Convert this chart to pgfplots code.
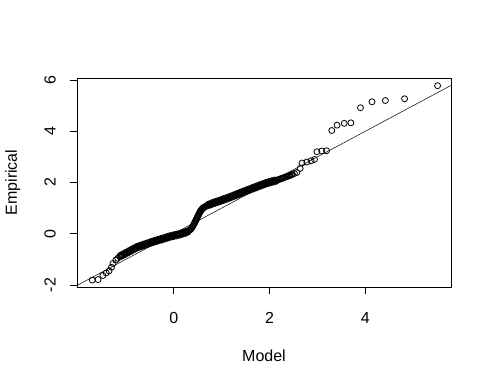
\documentclass[border=0pt]{standalone}
\usepackage{fontspec}
\setmainfont{Liberation Sans}
\usepackage{pgfplots}
\pgfplotsset{compat=1.18}

\begin{document}
\begin{tikzpicture}
\begin{axis}[
  name=ax,
  scale only axis,
  width=374pt, height=209pt,
  xmin=-2.02, xmax=5.79,
  ymin=-2.08, ymax=6.08,
  xtick={0,2,4}, ytick={-2,0,2,4,6},
  tick pos=left, tick align=outside,
  major tick length=7pt,
  tick style={black, line width=0.7pt},
  axis line style={line width=0.8pt},
  /pgf/number format/assume math mode=true,
  ticklabel style={font=\fontsize{16}{18}\selectfont},
  xticklabel style={anchor=center, yshift=-24pt},
  yticklabel style={anchor=center, rotate=90, yshift=20pt},
  label style={font=\fontsize{16}{18}\selectfont},
  xlabel={Model},
  ylabel={Empirical},
  xlabel style={at={(axis description cs:0.5,-0.33)}, anchor=center},
  ylabel style={at={(axis description cs:-0.172,0.5)}, anchor=center, rotate=0},
  clip=true,
]
% reference line y = x
\addplot[no marks, black, line width=0.5pt] coordinates {(-3,-3) (7,7)};

% empirical vs model quantiles
\addplot[only marks, mark=o, mark size=3pt, black, mark options={line width=0.8pt}] coordinates {
(-1.70,-1.81)(-1.58,-1.79)(-1.48,-1.63)(-1.41,-1.53)(-1.35,-1.45)(-1.30,-1.31)
(-1.27,-1.16)(-1.21,-1.03)(-1.17,-0.96)
(-1.13,-0.89)(-1.10,-0.86)(-1.07,-0.83)(-1.04,-0.80)(-1.01,-0.77)(-0.98,-0.74)
(-0.95,-0.71)(-0.92,-0.68)(-0.89,-0.65)(-0.86,-0.62)(-0.83,-0.59)(-0.80,-0.56)
(-0.77,-0.53)(-0.74,-0.51)(-0.71,-0.49)(-0.68,-0.47)(-0.65,-0.45)(-0.62,-0.43)
(-0.59,-0.415)(-0.56,-0.395)(-0.53,-0.375)(-0.50,-0.355)(-0.47,-0.335)(-0.44,-0.315)
(-0.41,-0.30)(-0.38,-0.28)(-0.35,-0.265)(-0.32,-0.25)(-0.29,-0.23)(-0.26,-0.215)
(-0.23,-0.20)(-0.20,-0.18)(-0.17,-0.165)(-0.14,-0.145)(-0.11,-0.125)(-0.08,-0.11)
(-0.05,-0.095)(-0.02,-0.085)(0.01,-0.07)(0.04,-0.055)(0.07,-0.045)(0.10,-0.03)
(0.13,-0.02)(0.16,0.00)(0.19,0.02)(0.22,0.035)(0.25,0.05)(0.28,0.08)(0.31,0.11)
(-1.115,-0.84)(-1.085,-0.88)(-1.055,-0.78)(-1.025,-0.82)(-0.995,-0.72)(-0.965,-0.76)
(-0.935,-0.66)(-0.905,-0.70)(-0.875,-0.60)(-0.845,-0.64)(-0.815,-0.54)(-0.785,-0.58)
(-0.755,-0.485)(-0.725,-0.535)(-0.695,-0.445)(-0.665,-0.495)(-0.635,-0.405)(-0.605,-0.457)
(-0.575,-0.37)(-0.545,-0.42)(-0.515,-0.33)(-0.485,-0.38)(-0.455,-0.29)(-0.425,-0.343)
(-0.395,-0.255)(-0.365,-0.308)(-0.335,-0.223)(-0.305,-0.275)(-0.275,-0.188)(-0.245,-0.243)
(-0.215,-0.155)(-0.185,-0.208)(-0.155,-0.12)(-0.125,-0.17)(-0.095,-0.083)(-0.065,-0.138)
(-0.035,-0.055)(-0.005,-0.113)(0.025,-0.028)(0.055,-0.085)(0.085,-0.003)(0.115,-0.06)
(0.145,0.025)(0.175,-0.025)(0.205,0.063)(0.235,0.008)(0.265,0.10)(0.295,0.06)
(0.34,0.15)(0.36,0.19)(0.38,0.24)(0.40,0.30)(0.42,0.37)(0.44,0.44)(0.455,0.50)
(0.47,0.55)(0.485,0.61)(0.50,0.67)(0.515,0.73)(0.53,0.78)(0.545,0.84)(0.56,0.89)
(0.58,0.94)(0.60,0.98)(0.62,1.02)(0.65,1.05)(0.68,1.08)
(0.35,0.17)(0.39,0.27)(0.43,0.405)(0.4625,0.525)(0.4925,0.64)(0.5225,0.755)
(0.5525,0.865)(0.57,0.915)(0.59,0.96)(0.61,1.00)(0.635,1.035)(0.665,1.065)(0.695,1.095)
(0.71,1.11)(0.74,1.13)(0.77,1.16)(0.80,1.18)(0.83,1.20)(0.86,1.22)(0.89,1.24)
(0.92,1.255)(0.95,1.275)(0.98,1.295)(1.01,1.315)(1.04,1.335)(1.07,1.355)(1.10,1.375)
(1.13,1.395)(1.16,1.415)(1.19,1.435)(1.22,1.46)(1.25,1.48)(1.28,1.505)(1.31,1.525)
(1.34,1.55)(1.37,1.57)(1.40,1.595)(1.43,1.615)(1.46,1.64)(1.49,1.66)(1.52,1.68)
(1.55,1.70)(1.58,1.725)(1.61,1.745)(1.64,1.77)(1.67,1.79)(1.70,1.81)(1.73,1.83)
(1.76,1.855)(1.79,1.875)(1.82,1.895)(1.85,1.915)(1.88,1.935)(1.91,1.96)(1.94,1.98)
(1.97,1.995)(2.00,2.01)(2.03,2.025)(2.06,2.04)(2.09,2.055)(2.12,2.07)(2.15,2.09)
(0.725,1.155)(0.755,1.11)(0.785,1.205)(0.815,1.155)(0.845,1.245)(0.875,1.195)
(0.905,1.283)(0.935,1.23)(0.965,1.32)(0.995,1.27)(1.025,1.36)(1.055,1.31)
(1.085,1.40)(1.115,1.35)(1.145,1.44)(1.175,1.39)(1.205,1.483)(1.235,1.435)
(1.265,1.528)(1.295,1.48)(1.325,1.573)(1.355,1.525)(1.385,1.618)(1.415,1.57)
(1.445,1.663)(1.475,1.615)(1.505,1.705)(1.535,1.655)(1.565,1.748)(1.595,1.70)
(1.625,1.793)(1.655,1.745)(1.685,1.835)(1.715,1.785)(1.745,1.878)(1.775,1.83)
(1.805,1.92)(1.835,1.87)(1.865,1.96)(1.895,1.913)(1.925,2.005)(1.955,1.953)
(1.985,2.038)(2.015,1.983)(2.045,2.068)(2.075,2.013)(2.105,2.098)(2.135,2.045)
(2.19,2.11)(2.24,2.15)(2.29,2.18)(2.34,2.22)(2.39,2.25)(2.43,2.28)(2.48,2.32)
(2.165,2.10)(2.215,2.13)(2.265,2.165)(2.315,2.20)(2.365,2.235)(2.41,2.265)(2.455,2.30)
(2.52,2.35)(2.57,2.39)(2.64,2.55)
(2.68,2.76)(2.78,2.80)(2.87,2.85)(2.94,2.90)
(2.99,3.20)(3.09,3.23)(3.19,3.24)
(3.30,4.03)(3.41,4.24)(3.56,4.31)(3.70,4.33)
(3.90,4.92)(4.14,5.15)(4.42,5.20)(4.82,5.27)(5.51,5.78)
};
\end{axis}
\pgfresetboundingbox
\path[use as bounding box] ([xshift=-77pt,yshift=-99pt]ax.south west) rectangle ([xshift=41pt,yshift=78pt]ax.north east);
\end{tikzpicture}
\end{document}
